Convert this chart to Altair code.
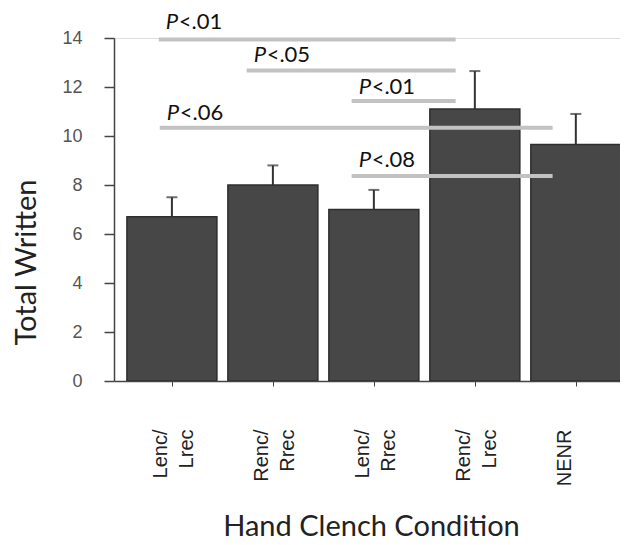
import altair as alt
import pandas as pd

# ---- data ----
categories = ["Lenc/Lrec", "Renc/Rrec", "Lenc/Rrec", "Renc/Lrec", "NENR"]
positions = [1, 2, 3, 4, 5]
label_lines = [["Lenc/", "Lrec"], ["Renc/", "Rrec"], ["Lenc/", "Rrec"], ["Renc/", "Lrec"], ["NENR"]]
means = [6.7, 8.0, 7.0, 11.1, 9.65]
upper = [7.5, 8.8, 7.8, 12.65, 10.9]

sig_text = ["<.01", "<.05", "<.01", "<.06", "<.08"]
sig_start = [0.87, 1.74, 2.78, 0.88, 2.78]
sig_end = [3.81, 3.81, 3.81, 4.77, 4.77]
sig_y = [13.94, 12.67, 11.43, 10.34, 8.37]
sig_label_y = [14.36, 13.03, 11.72, 10.66, 8.74]

y_ticks = list(range(0, 15))

bars_df = pd.DataFrame({"cat": categories, "pos": positions, "mean": means, "upper": upper})
sig_df = pd.DataFrame({"start": sig_start, "end": sig_end, "y": sig_y,
                       "ly": sig_label_y, "txt": sig_text})

# label expression for multi-line category labels
parts = []
for p, lines in zip(positions, label_lines):
    arr = "[" + ",".join("'" + s + "'" for s in lines) + "]"
    parts.append(f"datum.value == {p} ? {arr} : ")
label_expr = "".join(parts) + "''"

x_scale = alt.Scale(domain=[0.476, 5.388], nice=False, zero=False)
y_scale = alt.Scale(domain=[0, 14], nice=False)

x_axis = alt.Axis(
    values=positions, labelExpr=label_expr, labelAngle=-90,
    labelFont="Liberation Sans", labelFontSize=20, labelColor="#222",
    labelLineHeight=26, labelPadding=43, labelAlign="right", labelBaseline="middle",
    labelOffset=-11,
    tickSize=5, tickColor="#444", domainColor="#444", domainWidth=1.5, grid=False,
    title="Hand Clench Condition", titleFont="Lato", titleFontSize=29,
    titleFontWeight="normal", titleColor="#222", titleX=257, titleY=145,
    titleAlign="center", titleBaseline="middle", labelOverlap=False,
)
y_axis = alt.Axis(
    values=y_ticks, labelExpr="datum.value % 2 == 0 ? datum.label : ''",
    labelFont="Liberation Sans", labelFontSize=18, labelColor="#555",
    labelPadding=22, tickSize=10, tickColor="#444", domainColor="#444",
    domainWidth=1.5, tickWidth=1.5, grid=False,
    title="Total Written", titleFont="Lato", titleFontSize=29,
    titleFontWeight="normal", titleColor="#222", titleX=-88, titleY=224,
    titleAngle=-90, titleAlign="center", titleBaseline="middle",
)

bars = alt.Chart(bars_df).mark_bar(
    size=90, color="#474747", stroke="#2e2e2e", strokeWidth=1.5, clip=True
).encode(
    x=alt.X("pos:Q", scale=x_scale, axis=x_axis),
    y=alt.Y("mean:Q", scale=y_scale, axis=y_axis),
)

err = alt.Chart(bars_df).mark_rule(color="#333", strokeWidth=2).encode(
    x="pos:Q", y="mean:Q", y2="upper:Q"
)
cap = alt.Chart(bars_df).mark_tick(color="#333", thickness=2, size=11, orient="horizontal").encode(
    x="pos:Q", y="upper:Q"
)

sig_lines = alt.Chart(sig_df).mark_rule(color="#c2c2c2", strokeWidth=4).encode(
    x="start:Q", x2="end:Q", y="y:Q"
)
sig_p = alt.Chart(sig_df).mark_text(
    text="P", font="Lato", fontStyle="italic", fontSize=22, align="left",
    baseline="alphabetic", dx=7, color="#111"
).encode(x="start:Q", y="ly:Q")
sig_rest = alt.Chart(sig_df).mark_text(
    font="Lato", fontSize=22, align="left", baseline="alphabetic", dx=20, color="#111"
).encode(x="start:Q", y="ly:Q", text="txt:N")

chart = alt.layer(bars, err, cap, sig_lines, sig_p, sig_rest).properties(
    width=506, height=343,
    padding={"left": 4, "top": 3, "right": 0, "bottom": 2},
).configure_view(stroke=None).configure(background="white")

chart.save("out.html", embed_options={"renderer": "svg", "actions": False})
